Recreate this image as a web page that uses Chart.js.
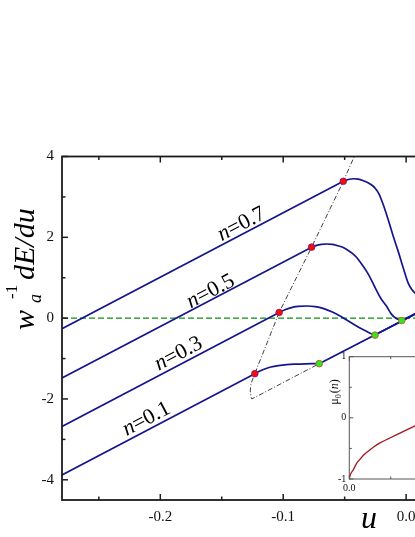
<!DOCTYPE html>
<html><head><meta charset="utf-8">
<script src="https://cdn.jsdelivr.net/npm/chart.js@4.4.1/dist/chart.umd.min.js"></script>
<style>
html,body{margin:0;padding:0;overflow:hidden;background:#fff;width:415px;height:537px;}
#wrap{position:relative;width:415px;height:537px;overflow:hidden;background:#fff;}
#main{position:absolute;left:0;top:0;}
#inset{position:absolute;left:320px;top:340px;}
</style></head><body>
<div id="wrap"><canvas id="main" width="560" height="537"></canvas><canvas id="inset" width="215" height="160"></canvas></div>
<script>
// ---------- data ----------
const nValues = [0.1, 0.3, 0.5, 0.7];
const leftU = -0.28;
const leftY = [-3.88, -2.68, -1.48, -0.26];
const redU = [-0.1231, -0.1033, -0.0769, -0.0511];
const redY = [-1.374, 0.141, 1.757, 3.386];
const greenU = [-0.0707, -0.0253, -0.0035, 0.0190];
const greenY = [-1.126, -0.420, -0.060, 0.290];
const endU = 0.1;
const endY = 1.56;

const bumpU1 = [-0.1190, -0.1150, -0.1100, -0.1040, -0.0970, -0.0900, -0.0820, -0.0760];
const bumpY1 = [-1.310, -1.260, -1.210, -1.175, -1.150, -1.138, -1.130, -1.127];
const bumpU3 = [-0.0990, -0.0940, -0.0880, -0.0810, -0.0740, -0.0670, -0.0600, -0.0530, -0.0460, -0.0390, -0.0320, -0.0280];
const bumpY3 = [0.200, 0.255, 0.290, 0.300, 0.285, 0.235, 0.150, 0.040, -0.090, -0.220, -0.330, -0.390];
const bumpU5 = [-0.0735, -0.0690, -0.0646, -0.0600, -0.0565, -0.0520, -0.0483, -0.0440, -0.0402, -0.0360, -0.0320, -0.0280, -0.0240, -0.0200, -0.0160, -0.0120, -0.0080];
const bumpY5 = [1.795, 1.825, 1.835, 1.825, 1.800, 1.760, 1.700, 1.610, 1.500, 1.330, 1.150, 0.930, 0.680, 0.460, 0.300, 0.100, -0.010];
const bumpU7 = [-0.0470, -0.0430, -0.0390, -0.0348, -0.0310, -0.0280, -0.0250, -0.0220, -0.0185, -0.0145, -0.0104, -0.0063, -0.0023, 0.0018, 0.0048, 0.0075, 0.0110, 0.0150];
const bumpY7 = [3.430, 3.450, 3.440, 3.400, 3.350, 3.295, 3.210, 3.070, 2.800, 2.430, 2.020, 1.640, 1.240, 0.860, 0.700, 0.610, 0.450, 0.330];
const bumpU = [bumpU1, bumpU3, bumpU5, bumpU7];
const bumpY = [bumpY1, bumpY3, bumpY5, bumpY7];

const curveNames = ['0.1', '0.3', '0.5', '0.7'];
const labelU = [-0.2119, -0.1858, -0.1597, -0.1345];
const labelY = [-2.46, -0.845, 0.696, 2.36];

const dashU = [-0.0400, -0.0422, -0.0511, -0.0769, -0.1033, -0.1231, -0.1262, -0.1268, -0.1262, -0.1255, -0.0707, -0.0253, -0.0035, 0.0190, 0.1];
const dashY = [4.15, 4.0, 3.386, 1.757, 0.141, -1.374, -1.62, -1.80, -1.95, -2.0, -1.126, -0.420, -0.060, 0.290, 1.56];

const xMajorTicks = [-0.2, -0.1, 0.0, 0.1];
const xMinorTicks = [-0.25, -0.15, -0.05, 0.05];
const yMajorTicks = [-4, -2, 0, 2, 4];
const yMinorTicks = [-3, -1, 1, 3];

// inset mu_0(n)
const insetN  = [0, 0.006, 0.024, 0.045, 0.064, 0.090, 0.125, 0.185, 0.245, 0.306, 0.397, 0.5, 0.6, 0.7, 0.8, 0.9, 0.955, 0.994, 1.0];
const insetMu = [-1, -0.93, -0.85, -0.74, -0.68, -0.60, -0.52, -0.41, -0.33, -0.25, -0.13, 0, 0.125, 0.25, 0.37, 0.55, 0.72, 0.93, 1.0];
const insetXMajor = [0, 0.5, 1.0];
const insetXMinor = [0.25, 0.75];
const insetYMajor = [-1, 0, 1];
const insetYMinor = [-0.5, 0.5];

// ---------- styling ----------
const SERIF = '"Liberation Serif", "Times New Roman", serif';
const BLUE = '#15158e';
const pts = (us, ys) => us.map((u, i) => ({x: u, y: ys[i]}));

const datasets = [];
datasets.push({data: pts(redU, redY), showLine: false, pointRadius: 3.3, pointBackgroundColor: '#ff0a0a', pointBorderColor: '#6a1a7a', pointBorderWidth: 0.8, order: 0});
datasets.push({data: pts(greenU, greenY), showLine: false, pointRadius: 3.3, pointBackgroundColor: '#22ee22', pointBorderColor: '#c8602a', pointBorderWidth: 1, order: 0});
nValues.forEach((n, i) => {
  const common = {showLine: true, borderColor: BLUE, borderWidth: 1.7, pointRadius: 0, order: 1, borderJoinStyle: 'round', borderCapStyle: 'round'};
  datasets.push(Object.assign({data: [{x: leftU, y: leftY[i]}, {x: redU[i], y: redY[i]}], tension: 0}, common));
  datasets.push(Object.assign({data: pts([redU[i], ...bumpU[i], greenU[i]], [redY[i], ...bumpY[i], greenY[i]]), cubicInterpolationMode: 'monotone'}, common));
  datasets.push(Object.assign({data: [{x: greenU[i], y: greenY[i]}, {x: endU, y: endY}], tension: 0}, common));
});
datasets.push({data: pts(dashU, dashY), showLine: true, tension: 0, borderColor: '#2a2a2a', borderWidth: 0.9, borderDash: [5, 2, 1, 2], pointRadius: 0, order: 2});
datasets.push({data: [{x: leftU, y: 0}, {x: endU, y: 0}], showLine: true, borderColor: '#0e8f0e', borderWidth: 1.3, borderDash: [6, 3], pointRadius: 0, order: 3});

const mainPlugin = {
  id: 'mainDecor',
  afterDatasetsDraw(chart) {
    const {ctx, scales: {x, y}} = chart;
    ctx.save();
    ctx.fillStyle = '#000';
    nValues.forEach((n, i) => {
      const x1 = x.getPixelForValue(leftU), y1 = y.getPixelForValue(leftY[i]);
      const x2 = x.getPixelForValue(redU[i]), y2 = y.getPixelForValue(redY[i]);
      const ang = Math.atan2(y2 - y1, x2 - x1);
      const px = x.getPixelForValue(labelU[i]), py = y.getPixelForValue(labelY[i]);
      ctx.save();
      ctx.translate(px, py);
      ctx.rotate(ang);
      ctx.font = 'italic 22px ' + SERIF;
      const wn = ctx.measureText('n').width;
      ctx.font = '22px ' + SERIF;
      const rest = '=' + curveNames[i];
      const wr = ctx.measureText(rest).width;
      const start = -(wn + wr) / 2;
      ctx.textBaseline = 'alphabetic';
      ctx.textAlign = 'left';
      ctx.font = 'italic 22px ' + SERIF;
      ctx.fillText('n', start, 7.5);
      ctx.font = '22px ' + SERIF;
      ctx.fillText(rest, start + wn, 7.5);
      ctx.restore();
    });
    ctx.restore();
  },
  afterDraw(chart) {
    const {ctx, chartArea: a, scales: {x, y}} = chart;
    ctx.save();
    ctx.strokeStyle = '#1c1c1c';
    ctx.lineWidth = 1.8;
    ctx.strokeRect(a.left, a.top, a.right - a.left, a.bottom - a.top);
    ctx.lineWidth = 1.5;
    const seg = (x1, y1, x2, y2) => { ctx.beginPath(); ctx.moveTo(x1, y1); ctx.lineTo(x2, y2); ctx.stroke(); };
    xMajorTicks.forEach(v => { const p = x.getPixelForValue(v); seg(p, a.bottom, p, a.bottom - 6); seg(p, a.top, p, a.top + 6); });
    xMinorTicks.forEach(v => { const p = x.getPixelForValue(v); seg(p, a.bottom, p, a.bottom - 3.5); seg(p, a.top, p, a.top + 3.5); });
    yMajorTicks.forEach(v => { const p = y.getPixelForValue(v); seg(a.left, p, a.left + 6, p); seg(a.right, p, a.right - 6, p); });
    yMinorTicks.forEach(v => { const p = y.getPixelForValue(v); seg(a.left, p, a.left + 3.5, p); seg(a.right, p, a.right - 3.5, p); });
    // axis titles
    ctx.fillStyle = '#000';
    ctx.textAlign = 'center';
    ctx.textBaseline = 'alphabetic';
    ctx.font = 'italic 32px ' + SERIF;
    ctx.fillText('u', 369, 528);
    ctx.save();
    ctx.translate(34, 330);
    ctx.rotate(-Math.PI / 2);
    ctx.textAlign = 'left';
    ctx.font = 'italic 30px ' + SERIF;
    ctx.fillText('w', 0, 0);
    const ww = ctx.measureText('w').width;
    ctx.font = 'italic 18px ' + SERIF;
    ctx.fillText('a', ww + 7, 7);
    ctx.font = '17px ' + SERIF;
    ctx.fillText('-1', ww + 11, -17);
    ctx.font = 'italic 30px ' + SERIF;
    ctx.fillText('dE/du', 50, 0);
    ctx.restore();
    ctx.restore();
  }
};

new Chart(document.getElementById('main'), {
  type: 'scatter',
  data: {datasets},
  options: {
    responsive: false, animation: false, devicePixelRatio: 1, events: [],
    layout: {padding: {left: 0, top: 156.5, right: 31, bottom: 0}},
    plugins: {legend: {display: false}, tooltip: {enabled: false}},
    scales: {
      x: {
        type: 'linear', min: leftU, max: endU,
        afterBuildTicks: s => { s.ticks = xMajorTicks.map(v => ({value: v})); },
        afterFit: s => { s.height = 37; },
        grid: {display: false, drawTicks: false}, border: {display: false},
        ticks: {color: '#111', font: {family: SERIF, size: 15}, padding: 8, maxRotation: 0, autoSkip: false,
                callback: v => v.toFixed(1)}
      },
      y: {
        type: 'linear', min: -4.5, max: 4,
        afterBuildTicks: s => { s.ticks = yMajorTicks.map(v => ({value: v})); },
        afterFit: s => { s.width = 62; },
        grid: {display: false, drawTicks: false}, border: {display: false},
        ticks: {color: '#111', font: {family: SERIF, size: 15}, padding: 8, autoSkip: false,
                callback: v => String(v)}
      }
    }
  },
  plugins: [mainPlugin]
});

// ---------- inset ----------
const insetPlugin = {
  id: 'insetDecor',
  beforeDatasetsDraw(chart) {
    const {ctx, chartArea: a} = chart;
    ctx.save(); ctx.fillStyle = '#fff';
    ctx.fillRect(a.left, a.top, a.right - a.left, a.bottom - a.top);
    ctx.restore();
  },
  afterDraw(chart) {
    const {ctx, chartArea: a, scales: {x, y}} = chart;
    ctx.save();
    ctx.strokeStyle = '#555';
    ctx.lineWidth = 1;
    ctx.strokeRect(a.left, a.top, a.right - a.left, a.bottom - a.top);
    const seg = (x1, y1, x2, y2) => { ctx.beginPath(); ctx.moveTo(x1, y1); ctx.lineTo(x2, y2); ctx.stroke(); };
    insetXMajor.forEach(v => { const p = x.getPixelForValue(v); seg(p, a.bottom, p, a.bottom - 4); seg(p, a.top, p, a.top + 4); });
    insetXMinor.forEach(v => { const p = x.getPixelForValue(v); seg(p, a.bottom, p, a.bottom - 2.5); seg(p, a.top, p, a.top + 2.5); });
    insetYMajor.forEach(v => { const p = y.getPixelForValue(v); seg(a.left, p, a.left + 4, p); seg(a.right, p, a.right - 4, p); });
    insetYMinor.forEach(v => { const p = y.getPixelForValue(v); seg(a.left, p, a.left + 2.5, p); seg(a.right, p, a.right - 2.5, p); });
    // title mu_0(n)
    ctx.fillStyle = '#111';
    ctx.translate(18, 52);
    ctx.rotate(-Math.PI / 2);
    ctx.textBaseline = 'alphabetic';
    ctx.textAlign = 'left';
    ctx.font = '12px ' + SERIF;
    const wMu = ctx.measureText('\u03bc').width;
    ctx.font = '8px ' + SERIF;
    const w0 = ctx.measureText('0').width;
    ctx.font = '12px ' + SERIF;
    const wp = ctx.measureText('(').width;
    ctx.font = 'italic 12px ' + SERIF;
    const wn = ctx.measureText('n').width;
    const total = wMu + w0 + 1 + wp * 2 + wn;
    let t = -total / 2;
    ctx.font = '12px ' + SERIF; ctx.fillText('\u03bc', t, 0); t += wMu;
    ctx.font = '8px ' + SERIF; ctx.fillText('0', t, 3); t += w0 + 1;
    ctx.font = '12px ' + SERIF; ctx.fillText('(', t, 0); t += wp;
    ctx.font = 'italic 12px ' + SERIF; ctx.fillText('n', t, 0); t += wn;
    ctx.font = '12px ' + SERIF; ctx.fillText(')', t, 0);
    ctx.restore();
  }
};

new Chart(document.getElementById('inset'), {
  type: 'scatter',
  data: {datasets: [{data: pts(insetN, insetMu), showLine: true, cubicInterpolationMode: 'monotone', borderColor: '#a3161a', borderWidth: 1.3, pointRadius: 0}]},
  options: {
    responsive: false, animation: false, devicePixelRatio: 1, events: [],
    layout: {padding: {left: 0, top: 16.7, right: 20, bottom: 0}},
    plugins: {legend: {display: false}, tooltip: {enabled: false}},
    scales: {
      x: {
        type: 'linear', min: 0, max: 1,
        afterBuildTicks: s => { s.ticks = insetXMajor.map(v => ({value: v})); },
        afterFit: s => { s.height = 21; },
        grid: {display: false, drawTicks: false}, border: {display: false},
        ticks: {color: '#111', font: {family: SERIF, size: 10}, padding: 3, maxRotation: 0, autoSkip: false,
                callback: v => v.toFixed(1)}
      },
      y: {
        type: 'linear', min: -1, max: 1,
        afterBuildTicks: s => { s.ticks = insetYMajor.map(v => ({value: v})); },
        afterFit: s => { s.width = 29.3; },
        grid: {display: false, drawTicks: false}, border: {display: false},
        ticks: {color: '#111', font: {family: SERIF, size: 10}, padding: 3, autoSkip: false,
                callback: v => String(v)}
      }
    }
  },
  plugins: [insetPlugin]
});
</script>
</body></html>
